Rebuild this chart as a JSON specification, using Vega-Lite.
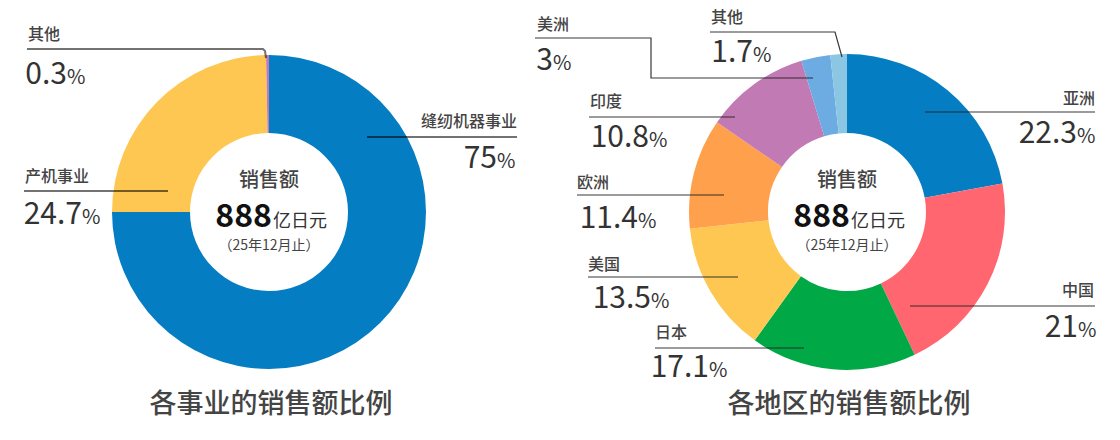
{
  "$schema": "https://vega.github.io/schema/vega-lite/v6.json",
  "width": 1120,
  "height": 440,
  "autosize": {"type": "fit", "contains": "padding"},
  "padding": 0,
  "background": "white",
  "config": {
    "view": {"stroke": null},
    "text": {"font": "Noto Sans CJK SC"}
  },
  "datasets": {
    "business": [
      {"name": "缝纫机器事业", "pct": 75},
      {"name": "产机事业", "pct": 24.7},
      {"name": "其他", "pct": 0.3}
    ],
    "region": [
      {"name": "亚洲", "pct": 22.3},
      {"name": "中国", "pct": 21},
      {"name": "日本", "pct": 17.1},
      {"name": "美国", "pct": 13.5},
      {"name": "欧洲", "pct": 11.4},
      {"name": "印度", "pct": 10.8},
      {"name": "美洲", "pct": 3},
      {"name": "其他", "pct": 1.7}
    ],
    "centers": [
      {"chart": "L", "cx": 269, "cy": 212, "title": "各事业的销售额比例"},
      {"chart": "R", "cx": 847, "cy": 212, "title": "各地区的销售额比例"}
    ],
    "labels": [
      {"chart": "L", "name": "其他", "pct": 0.3, "side": "left", "nx": 28, "ny": 35, "jx": 67, "by": 84},
      {"chart": "L", "name": "产机事业", "pct": 24.7, "side": "left", "nx": 25, "ny": 177, "jx": 82, "by": 224},
      {"chart": "L", "name": "缝纫机器事业", "pct": 75, "side": "right", "nx": 517, "ny": 122, "jx": 497, "by": 168},
      {"chart": "R", "name": "美洲", "pct": 3, "side": "left", "nx": 537, "ny": 25, "jx": 553, "by": 70},
      {"chart": "R", "name": "其他", "pct": 1.7, "side": "left", "nx": 711, "ny": 18, "jx": 753, "by": 62},
      {"chart": "R", "name": "印度", "pct": 10.8, "side": "left", "nx": 590, "ny": 102, "jx": 649, "by": 147},
      {"chart": "R", "name": "欧洲", "pct": 11.4, "side": "left", "nx": 577, "ny": 183, "jx": 638, "by": 228},
      {"chart": "R", "name": "美国", "pct": 13.5, "side": "left", "nx": 588, "ny": 265, "jx": 651, "by": 308},
      {"chart": "R", "name": "日本", "pct": 17.1, "side": "left", "nx": 655, "ny": 333, "jx": 709, "by": 377},
      {"chart": "R", "name": "亚洲", "pct": 22.3, "side": "right", "nx": 1095, "ny": 99, "jx": 1077, "by": 143},
      {"chart": "R", "name": "中国", "pct": 21, "side": "right", "nx": 1094, "ny": 291, "jx": 1078, "by": 337}
    ],
    "leaders": [
      {"chart": "L", "id": "L其他", "k": 1, "x": 27, "y": 49},
      {"chart": "L", "id": "L其他", "k": 2, "x": 263, "y": 49},
      {"chart": "L", "id": "L其他", "k": 3, "x": 265, "y": 51},
      {"chart": "L", "id": "L其他", "k": 4, "x": 266, "y": 58},
      {"chart": "L", "id": "L产机", "k": 1, "x": 24, "y": 191},
      {"chart": "L", "id": "L产机", "k": 2, "x": 168, "y": 191},
      {"chart": "L", "id": "L缝纫", "k": 1, "x": 367, "y": 137},
      {"chart": "L", "id": "L缝纫", "k": 2, "x": 517, "y": 137},
      {"chart": "R", "id": "R美洲", "k": 1, "x": 535, "y": 38},
      {"chart": "R", "id": "R美洲", "k": 2, "x": 651, "y": 38},
      {"chart": "R", "id": "R美洲", "k": 3, "x": 651, "y": 78},
      {"chart": "R", "id": "R美洲", "k": 4, "x": 813, "y": 78},
      {"chart": "R", "id": "R其他", "k": 1, "x": 710, "y": 32},
      {"chart": "R", "id": "R其他", "k": 2, "x": 835, "y": 32},
      {"chart": "R", "id": "R其他", "k": 3, "x": 842, "y": 57},
      {"chart": "R", "id": "R印度", "k": 1, "x": 589, "y": 117},
      {"chart": "R", "id": "R印度", "k": 2, "x": 735, "y": 117},
      {"chart": "R", "id": "R欧洲", "k": 1, "x": 577, "y": 195},
      {"chart": "R", "id": "R欧洲", "k": 2, "x": 724, "y": 195},
      {"chart": "R", "id": "R美国", "k": 1, "x": 588, "y": 277},
      {"chart": "R", "id": "R美国", "k": 2, "x": 738, "y": 277},
      {"chart": "R", "id": "R日本", "k": 1, "x": 655, "y": 348},
      {"chart": "R", "id": "R日本", "k": 2, "x": 804, "y": 348},
      {"chart": "R", "id": "R亚洲", "k": 1, "x": 925, "y": 112},
      {"chart": "R", "id": "R亚洲", "k": 2, "x": 1095, "y": 112},
      {"chart": "R", "id": "R中国", "k": 1, "x": 910, "y": 306},
      {"chart": "R", "id": "R中国", "k": 2, "x": 1095, "y": 306}
    ]
  },
  "layer": [
    {
      "data": {"name": "business"},
      "mark": {"type": "arc", "radius": 157, "innerRadius": 79},
      "encoding": {
        "x": {"datum": 269, "type": "quantitative", "scale": {"domain": [0, 1120], "nice": false, "zero": false}, "axis": null},
        "y": {"datum": 212, "type": "quantitative", "scale": {"domain": [0, 440], "nice": false, "zero": false, "reverse": true}, "axis": null},
        "theta": {"field": "pct", "type": "quantitative", "stack": true},
        "order": {"field": "pct", "sort": "descending"},
        "color": {"field": "name", "type": "nominal", "legend": null,
          "scale": {"domain": ["缝纫机器事业", "产机事业", "其他"], "range": ["#047DC3", "#FEC752", "#C17AB5"]}}
      }
    },
    {
      "data": {"name": "region"},
      "mark": {"type": "arc", "radius": 158, "innerRadius": 79},
      "encoding": {
        "x": {"datum": 847, "type": "quantitative", "scale": {"domain": [0, 1120], "nice": false, "zero": false}, "axis": null},
        "y": {"datum": 212, "type": "quantitative", "scale": {"domain": [0, 440], "nice": false, "zero": false, "reverse": true}, "axis": null},
        "theta": {"field": "pct", "type": "quantitative", "stack": true},
        "order": {"field": "pct", "sort": "descending"},
        "color": {"field": "name", "type": "nominal", "legend": null,
          "scale": {"domain": ["亚洲", "中国", "日本", "美国", "欧洲", "印度", "美洲", "其他"],
                    "range": ["#047DC3", "#FF6670", "#00A846", "#FEC752", "#FFA04C", "#C27AB5", "#6CACE3", "#8BC6E3"]}}
      }
    },
    {
      "data": {"name": "leaders"},
      "transform": [{"filter": "datum.chart == 'L'"}],
      "mark": {"type": "line", "stroke": "#000000", "strokeOpacity": 0.55, "strokeWidth": 2},
      "encoding": {
        "x": {"field": "x", "type": "quantitative", "scale": {"domain": [0, 1120], "nice": false, "zero": false}, "axis": null},
        "y": {"field": "y", "type": "quantitative", "scale": {"domain": [0, 440], "nice": false, "zero": false, "reverse": true}, "axis": null},
        "detail": {"field": "id", "type": "nominal"},
        "order": {"field": "k", "type": "quantitative"}
      }
    },
    {
      "data": {"name": "leaders"},
      "transform": [{"filter": "datum.chart == 'R'"}],
      "mark": {"type": "line", "stroke": "#222222", "strokeOpacity": 0.9, "strokeWidth": 1.2},
      "encoding": {
        "x": {"field": "x", "type": "quantitative", "scale": {"domain": [0, 1120], "nice": false, "zero": false}, "axis": null},
        "y": {"field": "y", "type": "quantitative", "scale": {"domain": [0, 440], "nice": false, "zero": false, "reverse": true}, "axis": null},
        "detail": {"field": "id", "type": "nominal"},
        "order": {"field": "k", "type": "quantitative"}
      }
    },
    {
      "data": {"name": "labels"},
      "transform": [{"filter": "datum.side == 'left'"}],
      "mark": {"type": "text", "align": "left", "baseline": "middle", "fontSize": 16, "fontWeight": 500, "color": "#444444"},
      "encoding": {
        "x": {"field": "nx", "type": "quantitative", "scale": {"domain": [0, 1120], "nice": false, "zero": false}, "axis": null},
        "y": {"field": "ny", "type": "quantitative", "scale": {"domain": [0, 440], "nice": false, "zero": false, "reverse": true}, "axis": null},
        "text": {"field": "name", "type": "nominal"}
      }
    },
    {
      "data": {"name": "labels"},
      "transform": [{"filter": "datum.side == 'right'"}],
      "mark": {"type": "text", "align": "right", "baseline": "middle", "fontSize": 16, "fontWeight": 500, "color": "#444444"},
      "encoding": {
        "x": {"field": "nx", "type": "quantitative", "scale": {"domain": [0, 1120], "nice": false, "zero": false}, "axis": null},
        "y": {"field": "ny", "type": "quantitative", "scale": {"domain": [0, 440], "nice": false, "zero": false, "reverse": true}, "axis": null},
        "text": {"field": "name", "type": "nominal"}
      }
    },
    {
      "data": {"name": "labels"},
      "mark": {"type": "text", "align": "right", "baseline": "alphabetic", "fontSize": 30, "color": "#333333"},
      "encoding": {
        "x": {"field": "jx", "type": "quantitative", "scale": {"domain": [0, 1120], "nice": false, "zero": false}, "axis": null},
        "y": {"field": "by", "type": "quantitative", "scale": {"domain": [0, 440], "nice": false, "zero": false, "reverse": true}, "axis": null},
        "text": {"field": "pct", "type": "nominal"}
      }
    },
    {
      "data": {"name": "labels"},
      "mark": {"type": "text", "align": "left", "baseline": "alphabetic", "fontSize": 20, "color": "#333333", "text": "%"},
      "encoding": {
        "x": {"field": "jx", "type": "quantitative", "scale": {"domain": [0, 1120], "nice": false, "zero": false}, "axis": null},
        "y": {"field": "by", "type": "quantitative", "scale": {"domain": [0, 440], "nice": false, "zero": false, "reverse": true}, "axis": null}
      }
    },
    {
      "data": {"name": "centers"},
      "mark": {"type": "text", "align": "center", "baseline": "middle", "fontSize": 20, "fontWeight": 500, "color": "#444444", "dy": -31, "text": "销售额"},
      "encoding": {
        "x": {"field": "cx", "type": "quantitative", "scale": {"domain": [0, 1120], "nice": false, "zero": false}, "axis": null},
        "y": {"field": "cy", "type": "quantitative", "scale": {"domain": [0, 440], "nice": false, "zero": false, "reverse": true}, "axis": null}
      }
    },
    {
      "data": {"name": "centers"},
      "mark": {"type": "text", "align": "right", "baseline": "alphabetic", "fontSize": 32, "fontWeight": "bold", "color": "#111111", "dx": 3, "dy": 15, "text": "888"},
      "encoding": {
        "x": {"field": "cx", "type": "quantitative", "scale": {"domain": [0, 1120], "nice": false, "zero": false}, "axis": null},
        "y": {"field": "cy", "type": "quantitative", "scale": {"domain": [0, 440], "nice": false, "zero": false, "reverse": true}, "axis": null}
      }
    },
    {
      "data": {"name": "centers"},
      "mark": {"type": "text", "align": "left", "baseline": "alphabetic", "fontSize": 18, "color": "#333333", "dx": 4, "dy": 15, "text": "亿日元"},
      "encoding": {
        "x": {"field": "cx", "type": "quantitative", "scale": {"domain": [0, 1120], "nice": false, "zero": false}, "axis": null},
        "y": {"field": "cy", "type": "quantitative", "scale": {"domain": [0, 440], "nice": false, "zero": false, "reverse": true}, "axis": null}
      }
    },
    {
      "data": {"name": "centers"},
      "mark": {"type": "text", "align": "center", "baseline": "middle", "fontSize": 14, "color": "#444444", "dy": 34, "text": "（25年12月止）"},
      "encoding": {
        "x": {"field": "cx", "type": "quantitative", "scale": {"domain": [0, 1120], "nice": false, "zero": false}, "axis": null},
        "y": {"field": "cy", "type": "quantitative", "scale": {"domain": [0, 440], "nice": false, "zero": false, "reverse": true}, "axis": null}
      }
    },
    {
      "data": {"name": "centers"},
      "mark": {"type": "text", "align": "center", "baseline": "middle", "fontSize": 27, "fontWeight": 500, "color": "#444444", "dx": 2, "dy": 193},
      "encoding": {
        "x": {"field": "cx", "type": "quantitative", "scale": {"domain": [0, 1120], "nice": false, "zero": false}, "axis": null},
        "y": {"field": "cy", "type": "quantitative", "scale": {"domain": [0, 440], "nice": false, "zero": false, "reverse": true}, "axis": null},
        "text": {"field": "title", "type": "nominal"}
      }
    }
  ],
  "resolve": {"scale": {"theta": "independent", "color": "independent"}}
}
